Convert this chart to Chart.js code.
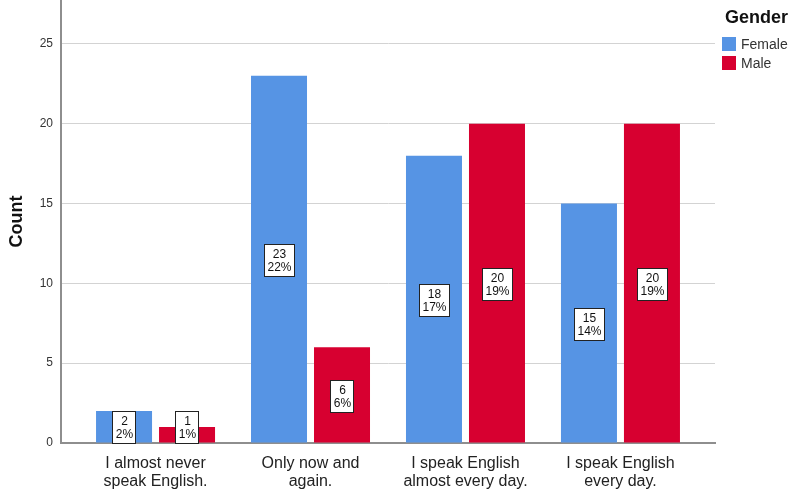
<!DOCTYPE html>
<html><head><meta charset="utf-8">
<script src="https://cdn.jsdelivr.net/npm/chart.js@4/dist/chart.umd.min.js"></script>
<style>html,body{margin:0;padding:0;background:#fff}</style>
</head><body>
<canvas id="c" width="791" height="494"></canvas>
<script>
const categories = [["I almost never","speak English."],["Only now and","again."],["I speak English","almost every day."],["I speak English","every day."]];
const seriesNames = ["Female","Male"];
const femaleCounts = [2,23,18,15];
const maleCounts = [1,6,20,20];
const femalePercents = ["2%","22%","17%","14%"];
const malePercents = ["1%","6%","19%","19%"];
const yTicks = [0,5,10,15,20,25];
const legendTitle = "Gender";
const yTitle = "Count";
const colors = ["#5694E4","#D70030"];
const FONT = "Arial, 'Liberation Sans', sans-serif";

const boxLabels = {
  id: 'boxLabels',
  afterDatasetsDraw(chart) {
    const ctx = chart.ctx;
    ctx.save();
    ctx.font = '12px ' + FONT;
    ctx.textAlign = 'center';
    ctx.textBaseline = 'middle';
    chart.data.datasets.forEach((ds, di) => {
      const meta = chart.getDatasetMeta(di);
      meta.data.forEach((bar, i) => {
        const lines = [String(ds.data[i].y), ds.pct[i]];
        const w = Math.round(Math.max(...lines.map(t => ctx.measureText(t).width)) + 6);
        const lh = 13, h = 32;
        const cx = Math.round(bar.x);
        let cy = Math.round((bar.y + bar.base) / 2) + 1;
        cy = Math.min(cy, Math.round(bar.base) - h / 2);
        const x0 = cx - Math.round(w / 2) + 0.5, y0 = cy - h / 2 + 0.5;
        ctx.fillStyle = '#fff';
        ctx.fillRect(x0, y0, w, h);
        ctx.strokeStyle = '#222';
        ctx.lineWidth = 1;
        ctx.strokeRect(x0, y0, w, h);
        ctx.fillStyle = '#111';
        ctx.fillText(lines[0], cx + 0.5, cy - lh / 2 + 1);
        ctx.fillText(lines[1], cx + 0.5, cy + lh / 2 + 1);
      });
    });
    ctx.restore();
  }
};

const legendBox = {
  id: 'legendBox',
  afterDraw(chart) {
    const ctx = chart.ctx;
    ctx.save();
    ctx.textAlign = 'left';
    ctx.textBaseline = 'alphabetic';
    ctx.fillStyle = '#111';
    ctx.font = 'bold 18px ' + FONT;
    ctx.fillText(legendTitle, 725, 23);
    ctx.font = '14px ' + FONT;
    chart.data.datasets.forEach((ds, i) => {
      const y = 37 + i * 19;
      ctx.fillStyle = ds.backgroundColor;
      ctx.fillRect(722, y, 14, 14);
      ctx.fillStyle = '#333';
      ctx.fillText(ds.label, 741, y + 12);
    });
    ctx.restore();
  }
};

new Chart(document.getElementById('c'), {
  type: 'bar',
  data: {
    datasets: [
      { label: seriesNames[0], data: femaleCounts.map((v, i) => ({x: i, y: v})), pct: femalePercents,
        backgroundColor: colors[0], barPercentage: 0.889, categoryPercentage: 0.813 },
      { label: seriesNames[1], data: maleCounts.map((v, i) => ({x: i, y: v})), pct: malePercents,
        backgroundColor: colors[1], barPercentage: 0.889, categoryPercentage: 0.813 }
    ]
  },
  options: {
    responsive: false,
    animation: false,
    devicePixelRatio: 1,
    layout: { padding: { left: 0, right: 76, top: 0, bottom: 0 } },
    plugins: { legend: { display: false }, tooltip: { enabled: false } },
    scales: {
      x: {
        type: 'linear',
        offset: false,
        min: -0.61, max: 3.61,
        afterBuildTicks: s => { s.ticks = categories.map((_, i) => ({ value: i })); },
        afterFit: s => { s.height = 51; s.paddingLeft = 0; s.paddingRight = 0; },
        grid: { display: false, drawTicks: false },
        border: { display: true, color: '#8e8e8e', width: 2 },
        ticks: {
          autoSkip: false, maxRotation: 0, padding: 11,
          callback: v => categories[v],
          font: { family: FONT, size: 16, lineHeight: 1.15 },
          color: '#222'
        }
      },
      y: {
        min: 0, max: 27.75,
        afterBuildTicks: s => { s.ticks = yTicks.map(v => ({ value: v })); },
        afterFit: s => { s.width = 61; s.paddingTop = 0; s.paddingBottom = 0; },
        grid: { color: '#d3d3d3', lineWidth: 1, drawTicks: false },
        border: { display: true, color: '#8e8e8e', width: 2 },
        ticks: { padding: 8, font: { family: FONT, size: 12 }, color: '#333' },
        title: { display: true, text: yTitle, font: { family: FONT, size: 18, weight: 'bold' }, color: '#111', padding: { top: 6, bottom: 0 } }
      }
    }
  },
  plugins: [boxLabels, legendBox]
});
</script>
</body></html>
